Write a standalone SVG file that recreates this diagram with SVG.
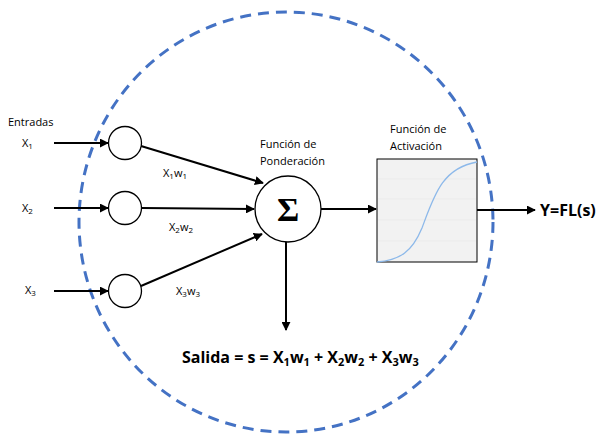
<svg xmlns="http://www.w3.org/2000/svg" width="599" height="436" viewBox="0 0 599 436">
<style>
text{font-family:"Open Sans","Liberation Sans",sans-serif;fill:#000}
.lbl{font-size:11px}
.big{font-size:16px;font-weight:bold}
.node{fill:#fff;stroke:#000;stroke-width:1.3}
.edge{stroke:#000;stroke-width:2;fill:none}
</style>
<defs>
<marker id="ah" viewBox="0 0 10 10" refX="9" refY="5" markerWidth="4.5" markerHeight="4.5" orient="auto" markerUnits="strokeWidth">
<path d="M0,0 L10,5 L0,10 z" fill="#000"/>
</marker>
</defs>
<rect width="599" height="436" fill="#fff"/>
<ellipse cx="286" cy="222" rx="207" ry="210" fill="none" stroke="#4472c4" stroke-width="3" stroke-dasharray="11 7"/>
<g id="connectors">
<line class="edge" x1="54" y1="143" x2="108" y2="143" marker-end="url(#ah)"/>
<line class="edge" x1="54" y1="208" x2="108" y2="208" marker-end="url(#ah)"/>
<line class="edge" x1="54" y1="291" x2="108" y2="291" marker-end="url(#ah)"/>
<line class="edge" x1="141" y1="146" x2="263" y2="183" marker-end="url(#ah)"/>
<line class="edge" x1="142" y1="208" x2="254" y2="209" marker-end="url(#ah)"/>
<line class="edge" x1="141" y1="286" x2="262" y2="234" marker-end="url(#ah)"/>
<line class="edge" x1="286" y1="242" x2="286" y2="330" marker-end="url(#ah)"/>
<line class="edge" x1="321" y1="209" x2="376" y2="209" marker-end="url(#ah)"/>
<line class="edge" x1="477" y1="210" x2="535" y2="210" marker-end="url(#ah)"/>
</g>
<g id="entradas"><text class="lbl" x="8" y="126">Entradas</text></g>
<g id="x1">
<text class="lbl" x="22" y="147">X<tspan font-size="8" dy="2">1</tspan></text>
<circle class="node" cx="125" cy="143" r="16.5"/>
</g>
<g id="x2">
<text class="lbl" x="22" y="212">X<tspan font-size="8" dy="2">2</tspan></text>
<circle class="node" cx="125" cy="208" r="16.5"/>
</g>
<g id="x3">
<text class="lbl" x="25" y="294">X<tspan font-size="8" dy="2">3</tspan></text>
<circle class="node" cx="125" cy="291" r="16.5"/>
</g>
<g id="w-labels">
<text class="lbl" x="163" y="177">X<tspan font-size="8" dy="2">1</tspan><tspan dy="-2">w</tspan><tspan font-size="8" dy="2">1</tspan></text>
<text class="lbl" x="169" y="231">X<tspan font-size="8" dy="2">2</tspan><tspan dy="-2">w</tspan><tspan font-size="8" dy="2">2</tspan></text>
<text class="lbl" x="176" y="295">X<tspan font-size="8" dy="2">3</tspan><tspan dy="-2">w</tspan><tspan font-size="8" dy="2">3</tspan></text>
</g>
<g id="sigma">
<text class="lbl" x="260" y="148">Función de</text>
<text class="lbl" x="260" y="165">Ponderación</text>
<circle class="node" cx="288" cy="209" r="33"/>
<text x="288" y="221" text-anchor="middle" style="font-family:'Liberation Serif','DejaVu Serif',serif;font-size:34px;font-weight:bold">Σ</text>
</g>
<g id="activacion">
<text class="lbl" x="390" y="133">Función de</text>
<text class="lbl" x="390" y="150">Activación</text>
<rect x="377" y="159" width="100" height="103" fill="#f2f2f2" stroke="#000" stroke-width="1"/>
<g stroke="#e6e6e6" stroke-width="0.6">
<line x1="378" y1="179" x2="476" y2="179"/>
<line x1="378" y1="199" x2="476" y2="199"/>
<line x1="378" y1="220" x2="476" y2="220"/>
<line x1="378" y1="241" x2="476" y2="241"/>
</g>
<path d="M377,262 C400,260 412,252 422,228 C434,196 442,168 477,162" fill="none" stroke="#8db9ea" stroke-width="1.3"/>
</g>
<g id="salida">
<text class="big" x="540" y="216">Y=FL(s)</text>
<text class="big" x="182" y="363">Salida = s = X<tspan font-size="11" dy="3">1</tspan><tspan dy="-3">w</tspan><tspan font-size="11" dy="3">1</tspan><tspan dy="-3"> + X</tspan><tspan font-size="11" dy="3">2</tspan><tspan dy="-3">w</tspan><tspan font-size="11" dy="3">2</tspan><tspan dy="-3"> + X</tspan><tspan font-size="11" dy="3">3</tspan><tspan dy="-3">w</tspan><tspan font-size="11" dy="3">3</tspan></text>
</g>
</svg>
